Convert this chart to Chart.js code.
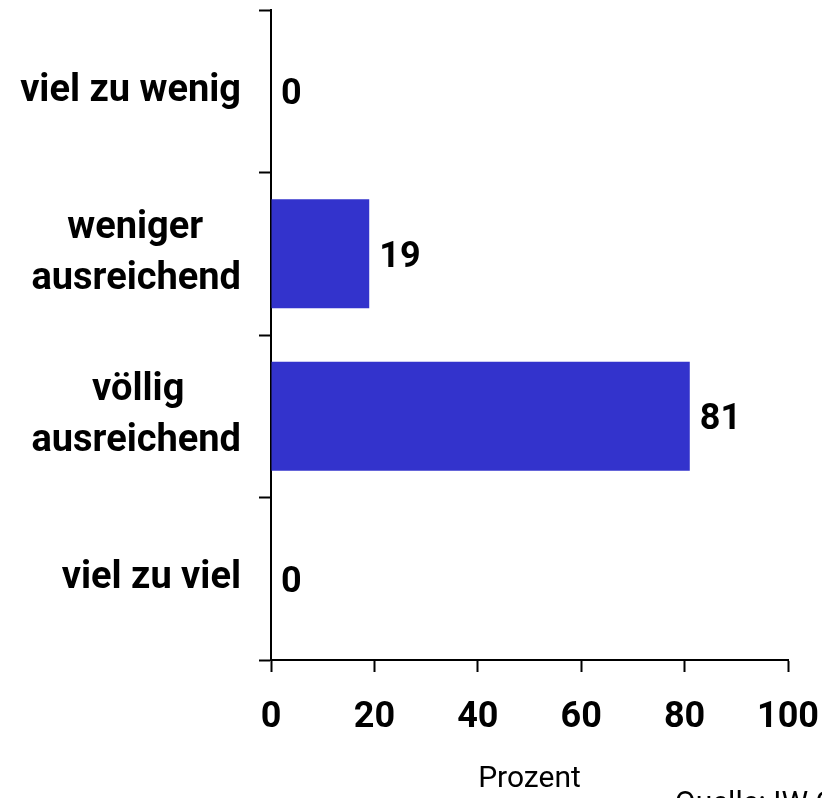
<!DOCTYPE html>
<html>
<head>
<meta charset="utf-8">
<script src="https://cdn.jsdelivr.net/npm/chart.js@4/dist/chart.umd.min.js"></script>
<style>
  html, body { margin: 0; padding: 0; background: #ffffff; overflow: hidden; }
  #wrap { width: 822px; height: 798px; }
</style>
</head>
<body>
<div id="wrap"><canvas id="c" width="822" height="798"></canvas></div>
<script>
// ---- data ----
const categories = [
  ['viel zu wenig'],
  ['weniger', 'ausreichend'],
  ['völlig', 'ausreichend'],
  ['viel zu viel']
];
const values = [0, 19, 81, 0];
const xTickValues = [0, 20, 40, 60, 80, 100];
const axisTitle = 'Prozent';
const sourceNote = 'Quelle: IW Consult';

// ---- styling ----
const FONT = "Roboto, 'Liberation Sans', Arial, sans-serif";
const BAR_COLOR = '#3333CC';
const CAT_FONT_SIZE = 38;
const NUM_FONT_SIZE = 36;

// center the shorter lines of a multi-line label relative to its widest line
const measureCtx = document.createElement('canvas').getContext('2d');
function centerLines(lines) {
  if (lines.length < 2) return lines[0];
  measureCtx.font = `bold ${CAT_FONT_SIZE}px ${FONT}`;
  const widths = lines.map(l => measureCtx.measureText(l).width);
  const maxW = Math.max(...widths);
  const spaceW = measureCtx.measureText(' ').width;
  return lines.map((l, i) => l + ' '.repeat(Math.round((maxW - widths[i]) / 2 / spaceW)));
}

const valueLabels = {
  id: 'valueLabels',
  afterDatasetsDraw(chart) {
    const ctx = chart.ctx;
    const meta = chart.getDatasetMeta(0);
    ctx.save();
    ctx.font = `bold ${NUM_FONT_SIZE}px ${FONT}`;
    ctx.fillStyle = '#000';
    ctx.textAlign = 'left';
    ctx.textBaseline = 'middle';
    meta.data.forEach((bar, i) => {
      ctx.fillText(String(values[i]), bar.x + 10, bar.y + 4);
    });
    ctx.restore();
  }
};

const sourcePlugin = {
  id: 'sourcePlugin',
  afterDraw(chart) {
    const ctx = chart.ctx;
    ctx.save();
    ctx.font = `30px ${FONT}`;
    ctx.fillStyle = '#000';
    ctx.textAlign = 'left';
    ctx.textBaseline = 'alphabetic';
    ctx.fillText(sourceNote, chart.chartArea.right - 113, 812);
    ctx.restore();
  }
};

function noPad(s) { s.paddingTop = 0; s.paddingBottom = 0; s.paddingLeft = 0; s.paddingRight = 0; }

new Chart(document.getElementById('c'), {
  type: 'bar',
  data: {
    labels: categories.map(centerLines),
    datasets: [{
      data: values,
      backgroundColor: BAR_COLOR,
      borderWidth: 0,
      categoryPercentage: 1.0,
      barPercentage: 0.67
    }]
  },
  options: {
    indexAxis: 'y',
    responsive: false,
    animation: false,
    events: [],
    layout: { padding: { top: 10, right: 34, left: 0, bottom: 0 } },
    plugins: {
      legend: { display: false },
      tooltip: { enabled: false }
    },
    scales: {
      x: {
        type: 'linear',
        min: 0,
        max: 100,
        afterBuildTicks: s => { s.ticks = xTickValues.map(v => ({ value: v })); },
        afterFit: s => { s.height = 138; noPad(s); },
        border: { display: true, color: '#000', width: 2 },
        grid: { drawOnChartArea: false, drawTicks: true, tickLength: 12, tickColor: '#000', tickWidth: 2 },
        ticks: {
          color: '#000',
          padding: 24,
          maxRotation: 0,
          font: { family: FONT, size: NUM_FONT_SIZE, weight: 'bold' }
        },
        title: {
          display: true,
          text: axisTitle,
          color: '#000',
          padding: { top: 0, bottom: 1 },
          font: { family: FONT, size: 30, weight: 'normal' }
        }
      },
      y: {
        type: 'category',
        offset: true,
        afterFit: s => { s.width = 271; noPad(s); },
        border: { display: true, color: '#000', width: 2 },
        grid: { offset: true, drawOnChartArea: false, drawTicks: true, tickLength: 12, tickColor: '#000', tickWidth: 2 },
        ticks: {
          color: '#000',
          padding: 18,
          autoSkip: false,
          font: { family: FONT, size: CAT_FONT_SIZE, weight: 'bold', lineHeight: 1.35 }
        }
      }
    }
  },
  plugins: [valueLabels, sourcePlugin]
});
</script>
</body>
</html>
